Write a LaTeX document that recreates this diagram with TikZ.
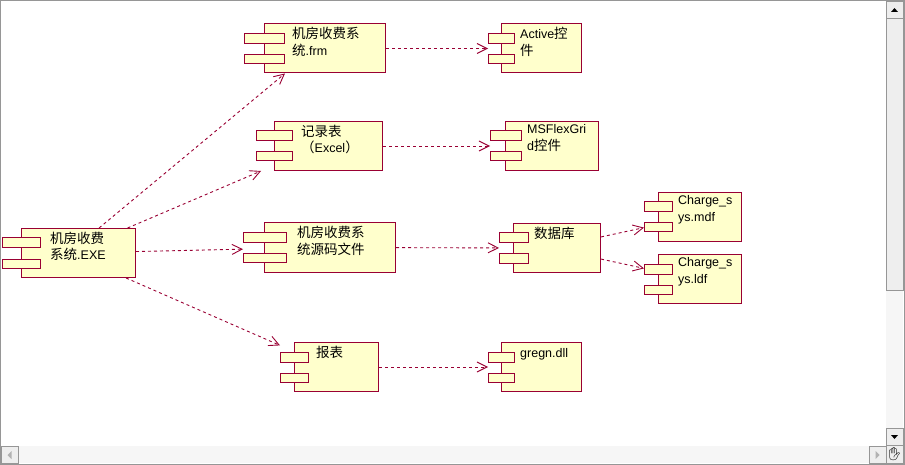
\documentclass[tikz,border=0pt]{standalone}
\usepackage{fontspec}
\setmainfont{Liberation Sans}
\newfontfamily\cjk[Scale=1.08]{Noto Sans CJK SC}
\newfontfamily\emj{Noto Emoji}
\usetikzlibrary{arrows.meta,calc}
\definecolor{roseln}{RGB}{153,0,51}
\definecolor{rosefill}{RGB}{255,255,204}
\definecolor{winbdr}{RGB}{150,150,150}
\definecolor{btnfill}{RGB}{238,238,238}
\definecolor{trkfill}{RGB}{246,246,246}
\tikzset{
  %% component: the node is the whole outline, tabs included
  cmp/.style={rectangle,fill=white,inner sep=0pt,outer sep=0pt,
    minimum width=#1,minimum height=50pt,
    path picture={
      \filldraw[cmpln] let \p1=(path picture bounding box.north west),
        \p2=(path picture bounding box.south east),\n1={(\x2-\x1)/7} in
        (\x1+\n1,\y1-0.5) rectangle (\x2-0.5,\y2+0.5);
      \filldraw[cmpln] let \p1=(path picture bounding box.north west),
        \p2=(path picture bounding box.south east),\n1={(\x2-\x1)/7} in
        (\x1+0.5,\y1-10) rectangle (\x1+2*\n1,\y1-20)
        (\x1+0.5,\y1-31) rectangle (\x1+2*\n1,\y1-40);
    }},
  cmpln/.style={draw=roseln,fill=rosefill,line width=1pt},
  %% component name, top left inside the box
  ctxt/.style={anchor=north west,inner sep=0pt,align=left,
    font=\fontsize{12.5pt}{16.5pt}\selectfont,execute at begin node=\strut},
  %% dependency arrow
  darr/.style={draw=roseln,line width=0.9pt,dash pattern=on 3pt off 3pt,
    -{Straight Barb[length=10pt,width=10pt]}},
  %% window scroll bars
  sbtn/.style={draw=winbdr,fill=btnfill,line width=0.8pt},
  strk/.style={draw=none,fill=trkfill},
}

\begin{document}
\begin{tikzpicture}[x=1pt,y=-1pt]
  \useasboundingbox (0,0) rectangle (905,465);

  \node[cmp=134pt] (exe)  at (69,253)    {};
  \node[cmp=142pt] (frm)  at (315,48.5)  {};
  \node[cmp=94pt]  (act)  at (535,48.5)  {};
  \node[cmp=127pt] (xls)  at (319.5,146) {};
  \node[cmp=109pt] (grid) at (544.5,146) {};
  \node[cmp=153pt] (src)  at (319.5,247.5) {};
  \node[cmp=102pt] (db)   at (550,248)   {};
  \node[cmp=98pt]  (mdf)  at (693,217)   {};
  \node[cmp=98pt]  (ldf)  at (693,279)   {};
  \node[cmp=99pt]  (rpt)  at (329.5,367) {};
  \node[cmp=94pt]  (dll)  at (535,367)   {};

  \node[ctxt] (exe-t)  at ([shift={(48,3.5)}]exe.north west)  {{\cjk 机房收费}\\{\cjk 系统}.EXE};
  \node[ctxt] (frm-t)  at ([shift={(48,3.5)}]frm.north west)  {{\cjk 机房收费系}\\{\cjk 统}.frm};
  \node[ctxt] (act-t)  at ([shift={(32,3.5)}]act.north west)  {Active{\cjk 控}\\{\cjk 件}};
  \node[ctxt] (xls-t)  at ([shift={(45,3.5)}]xls.north west)  {{\cjk 记录表}\\{\cjk （}Excel{\cjk ）}};
  \node[ctxt] (grid-t) at ([shift={(37,3.5)}]grid.north west) {MSFlexGri\\d{\cjk 控件}};
  \node[ctxt] (src-t)  at ([shift={(54,3.5)}]src.north west)  {{\cjk 机房收费系}\\{\cjk 统源码文件}};
  \node[ctxt] (db-t)   at ([shift={(35,3.5)}]db.north west)   {{\cjk 数据库}};
  \node[ctxt] (mdf-t)  at ([shift={(34,3.5)}]mdf.north west)  {Charge\_s\\ys.mdf};
  \node[ctxt] (ldf-t)  at ([shift={(34,3.5)}]ldf.north west)  {Charge\_s\\ys.ldf};
  \node[ctxt] (rpt-t)  at ([shift={(36,3.5)}]rpt.north west)  {{\cjk 报表}};
  \node[ctxt] (dll-t)  at ([shift={(32,3.5)}]dll.north west)  {gregn.dll};

  \draw[darr] (exe) -- (frm);
  \draw[darr] (exe) -- (xls);
  \draw[darr] (exe) -- (src);
  \draw[darr] (exe) -- (rpt);
  \draw[darr] (frm) -- (act);
  \draw[darr] (xls) -- (grid);
  \draw[darr] (src) -- (db);
  \draw[darr] (db)  -- (mdf);
  \draw[darr] (db)  -- (ldf);
  \draw[darr] (rpt) -- (dll);

  \fill[strk] (886,290) rectangle (903,428);
  \fill[strk] (1,446) rectangle (886,463);
  \draw[sbtn] (886.5,1) rectangle (903,18);
  \draw[sbtn] (886.5,18) rectangle (903,290);
  \draw[sbtn] (886.5,428) rectangle (903,445);
  \draw[sbtn] (1,446) rectangle (18,463);
  \draw[sbtn] (869,446) rectangle (886,463);
  \draw[sbtn] (886.5,445.5) rectangle (903,463);
  \fill (891,12) -- (898,12) -- (894.5,8) -- cycle;
  \fill (891,435) -- (898,435) -- (894.5,439) -- cycle;
  \fill[gray!60] (11.5,451) -- (11.5,459) -- (7.5,455) -- cycle;
  \fill[gray!60] (875.5,451) -- (875.5,459) -- (879.5,455) -- cycle;
  \node[inner sep=0pt,font=\emj\fontsize{13pt}{13pt}\selectfont] (hand) at (894.5,454) {✋};
  \draw[winbdr,line width=1pt] (0.5,0.5) rectangle (904.5,464.5);
\end{tikzpicture}
\end{document}
